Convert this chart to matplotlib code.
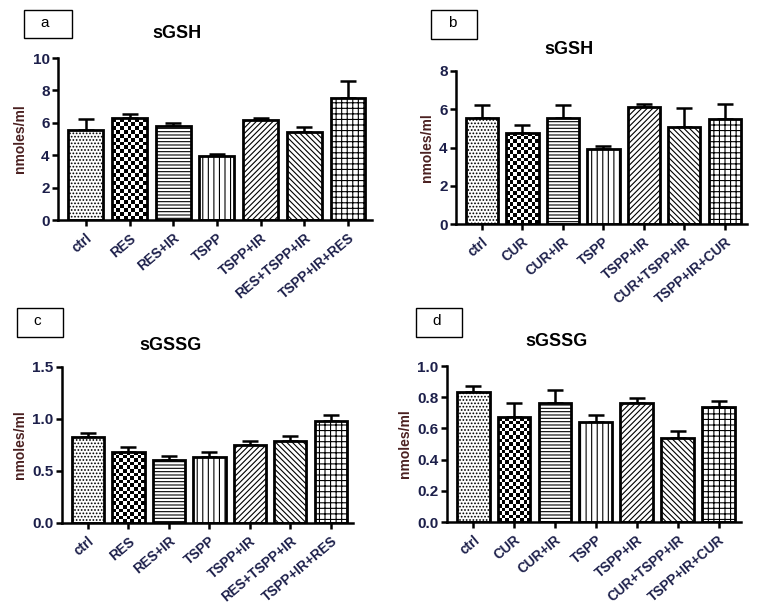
import numpy as np
import matplotlib.pyplot as plt
from matplotlib.patches import Rectangle

# data ----------------------------------------------------------------
groups_res = ['ctrl', 'RES', 'RES+IR', 'TSPP', 'TSPP+IR', 'RES+TSPP+IR', 'TSPP+IR+RES']
groups_cur = ['ctrl', 'CUR', 'CUR+IR', 'TSPP', 'TSPP+IR', 'CUR+TSPP+IR', 'TSPP+IR+CUR']

gsh_res = [5.56, 6.28, 5.81, 3.95, 6.15, 5.42, 7.53]
gsh_res_err = [0.68, 0.28, 0.17, 0.13, 0.12, 0.31, 1.03]

gsh_cur = [5.55, 4.78, 5.55, 3.91, 6.12, 5.08, 5.50]
gsh_cur_err = [0.66, 0.42, 0.66, 0.16, 0.16, 1.01, 0.78]

gssg_res = [0.83, 0.686, 0.61, 0.638, 0.753, 0.788, 0.977]
gssg_res_err = [0.035, 0.048, 0.035, 0.048, 0.037, 0.045, 0.057]

gssg_cur = [0.833, 0.671, 0.765, 0.641, 0.761, 0.538, 0.739]
gssg_cur_err = [0.039, 0.094, 0.079, 0.043, 0.036, 0.045, 0.039]

hatches = ['.....', None, '-----', '|||', '//////', '\\\\\\\\\\\\', '+++']

tick_col = '#1c1f4a'
ylab_col = '#4a2020'

plt.rcParams['font.family'] = ['Liberation Sans', 'DejaVu Sans']
plt.rcParams['hatch.linewidth'] = 0.8


def panel(fig, rect, cats, vals, errs, ymax, yticks, fmt, title, title_xy, letter, box):
    ax = fig.add_axes(rect)
    x = np.arange(len(cats))
    bars = ax.bar(x, vals, width=0.8, color='white', edgecolor='black', linewidth=2.0, zorder=2)
    for b, h in zip(bars, hatches):
        if h:
            b.set_hatch(h)
    ax.errorbar(x, vals, yerr=[np.zeros(len(vals)), errs], fmt='none', ecolor='black',
                elinewidth=1.8, capsize=6, capthick=1.8, zorder=1)
    ax.set_xlim(-0.64, len(cats) - 0.45)
    ax.set_ylim(0, ymax)
    ax.set_yticks(yticks)
    ax.set_yticklabels([fmt.format(v) for v in yticks], fontsize=11, fontweight='bold', color=tick_col)
    ax.set_xticks(x)
    ax.set_xticklabels(cats, rotation=40, ha='right', rotation_mode='anchor', fontsize=9.8,
                       fontweight='bold', color=tick_col)
    for s in ['top', 'right']:
        ax.spines[s].set_visible(False)
    for s in ['left', 'bottom']:
        ax.spines[s].set_linewidth(1.8)
    ax.tick_params(width=1.8, length=4, pad=2)
    ax.tick_params(axis='x', pad=4)
    ax.set_ylabel('nmoles/ml', fontsize=10, fontweight='bold', color=ylab_col, labelpad=4)

    # checkerboard fill for the second bar
    fig.canvas.draw()
    b = bars[1]
    b.set_facecolor('none')
    (x0, y0), (x1, y1) = ax.transData.transform([(b.get_x(), 0), (b.get_x() + b.get_width(), b.get_height())])
    ncol = 9
    nrow = max(1, int(round((y1 - y0) / ((x1 - x0) / ncol))))
    checker = np.indices((nrow, ncol)).sum(axis=0) % 2
    im = ax.imshow(checker, cmap='gray', interpolation='nearest', aspect='auto',
                   extent=(b.get_x(), b.get_x() + b.get_width(), 0, b.get_height()), zorder=1.5)
    im.set_clip_path(b)
    ax.set_xlim(-0.64, len(cats) - 0.45)
    ax.set_ylim(0, ymax)

    fig.text(title_xy[0], title_xy[1], title, ha='center', va='center', fontsize=13, fontweight='bold')
    fig.patches.append(Rectangle((box[0], box[1]), box[2], box[3], transform=fig.transFigure,
                                 fill=False, edgecolor='black', linewidth=1.0))
    fig.text(box[0] + 0.022, box[1] + box[3] * 0.55, letter, ha='left', va='center', fontsize=11)
    return ax


W, H = 758, 608
fig = plt.figure(figsize=(W / 100, H / 100), dpi=100)


def fr(l, t, r, b):
    return [l / W, 1 - b / H, (r - l) / W, (b - t) / H]


def bx(l, t, r, b):
    return (l / W, 1 - b / H, (r - l) / W, (b - t) / H)


panel(fig, fr(58, 58, 372, 220), groups_res, gsh_res, gsh_res_err, 10, [0, 2, 4, 6, 8, 10], '{:.0f}',
      'sGSH', (177 / W, 1 - 33 / H), 'a', bx(24, 10, 72, 38))
panel(fig, fr(456, 71, 747, 224), groups_cur, gsh_cur, gsh_cur_err, 8, [0, 2, 4, 6, 8], '{:.0f}',
      'sGSH', (569 / W, 1 - 49 / H), 'b', bx(431, 10, 477, 39))
panel(fig, fr(62, 367, 353, 523), groups_res, gssg_res, gssg_res_err, 1.5, [0, 0.5, 1.0, 1.5], '{:.1f}',
      'sGSSG', (171 / W, 1 - 345 / H), 'c', bx(17, 308, 63, 337))
panel(fig, fr(447, 366, 741, 522), groups_cur, gssg_cur, gssg_cur_err, 1.0, [0, 0.2, 0.4, 0.6, 0.8, 1.0], '{:.1f}',
      'sGSSG', (556 / W, 1 - 342 / H), 'd', bx(416, 308, 462, 337))

fig.savefig('out.png', dpi=100)
